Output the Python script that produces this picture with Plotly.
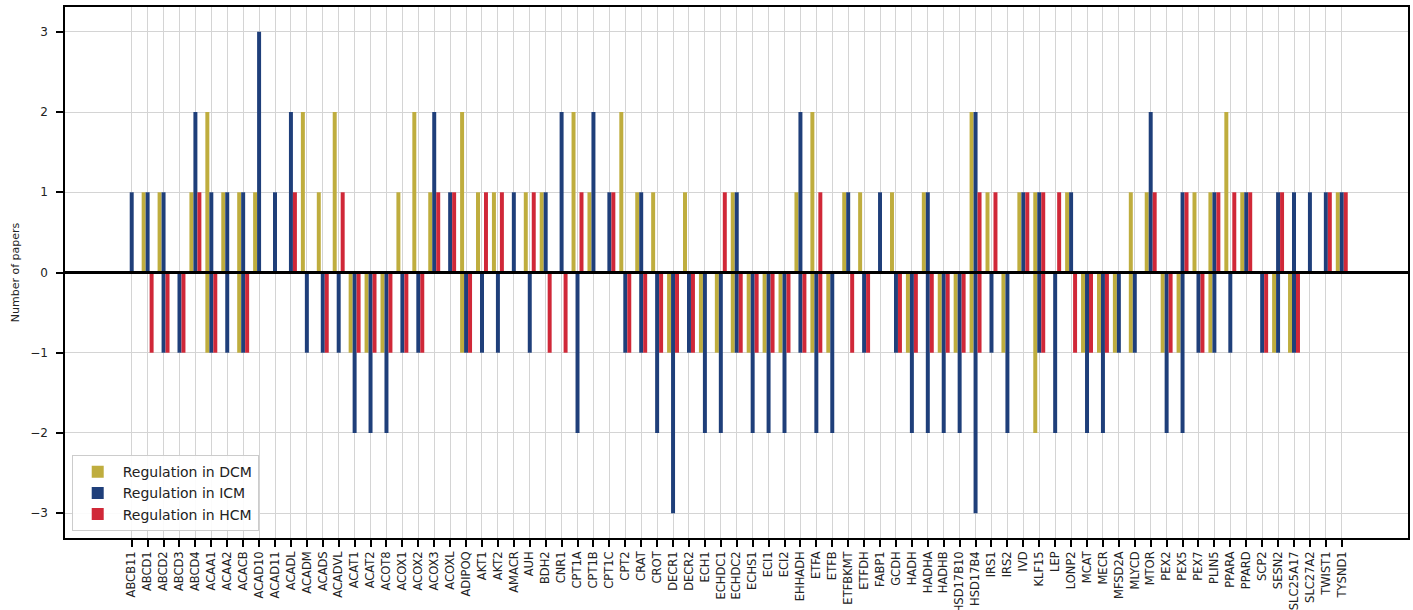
import plotly.graph_objects as go

genes = ["ABCB11", "ABCD1", "ABCD2", "ABCD3", "ABCD4", "ACAA1", "ACAA2", "ACACB", "ACAD10", "ACAD11",
         "ACADL", "ACADM", "ACADS", "ACADVL", "ACAT1", "ACAT2", "ACOT8", "ACOX1", "ACOX2", "ACOX3",
         "ACOXL", "ADIPOQ", "AKT1", "AKT2", "AMACR", "AUH", "BDH2", "CNR1", "CPT1A", "CPT1B",
         "CPT1C", "CPT2", "CRAT", "CROT", "DECR1", "DECR2", "ECH1", "ECHDC1", "ECHDC2", "ECHS1",
         "ECI1", "ECI2", "EHHADH", "ETFA", "ETFB", "ETFBKMT", "ETFDH", "FABP1", "GCDH", "HADH",
         "HADHA", "HADHB", "HSD17B10", "HSD17B4", "IRS1", "IRS2", "IVD", "KLF15", "LEP", "LONP2",
         "MCAT", "MECR", "MFSD2A", "MLYCD", "MTOR", "PEX2", "PEX5", "PEX7", "PLIN5", "PPARA",
         "PPARD", "SCP2", "SESN2", "SLC25A17", "SLC27A2", "TWIST1", "TYSND1"]

dcm_up = [0, 1, 1, 0, 1, 2, 1, 1, 1, 0,
          0, 2, 1, 2, 0, 0, 0, 1, 2, 1,
          0, 2, 1, 1, 0, 1, 1, 0, 2, 1,
          0, 2, 1, 1, 0, 1, 0, 0, 1, 0,
          0, 0, 1, 2, 0, 1, 1, 0, 1, 0,
          1, 0, 0, 2, 1, 0, 1, 1, 0, 1,
          0, 0, 0, 1, 1, 0, 0, 1, 1, 2,
          1, 0, 0, 0, 0, 0, 1]
dcm_down = [0, 0, 0, 0, 0, -1, 0, -1, 0, 0,
            0, 0, 0, 0, -1, -1, -1, 0, 0, 0,
            0, -1, 0, 0, 0, 0, 0, 0, 0, 0,
            0, 0, 0, 0, -1, 0, -1, -1, -1, -1,
            -1, -1, 0, -1, -1, 0, 0, 0, 0, -1,
            0, -1, -1, -1, 0, -1, 0, -2, 0, 0,
            -1, -1, -1, -1, 0, -1, -1, 0, -1, 0,
            0, 0, -1, -1, 0, 0, 0]
icm_up = [1, 1, 1, 0, 2, 1, 1, 1, 3, 1,
          2, 0, 0, 0, 0, 0, 0, 0, 0, 2,
          1, 0, 0, 0, 1, 0, 1, 2, 0, 2,
          1, 0, 1, 0, 0, 0, 0, 0, 1, 0,
          0, 0, 2, 0, 0, 1, 0, 1, 0, 0,
          1, 0, 0, 2, 0, 0, 1, 1, 0, 1,
          0, 0, 0, 0, 2, 0, 1, 0, 1, 0,
          1, 0, 1, 1, 1, 1, 1]
icm_down = [0, 0, -1, -1, 0, -1, -1, -1, 0, 0,
            0, -1, -1, -1, -2, -2, -2, -1, -1, 0,
            0, -1, -1, -1, 0, -1, 0, 0, -2, 0,
            0, -1, -1, -2, -3, -1, -2, -2, -1, -2,
            -2, -2, -1, -2, -2, 0, -1, 0, -1, -2,
            -2, -2, -2, -3, -1, -2, 0, -1, -2, 0,
            -2, -2, -1, -1, 0, -2, -2, -1, -1, -1,
            0, -1, -1, -1, 0, 0, 0]
hcm_up = [0, 0, 0, 0, 1, 0, 0, 0, 0, 0,
          1, 0, 0, 1, 0, 0, 0, 0, 0, 1,
          1, 0, 1, 1, 0, 1, 0, 0, 1, 0,
          1, 0, 0, 0, 0, 0, 0, 1, 0, 0,
          0, 0, 0, 1, 0, 0, 0, 0, 0, 0,
          0, 0, 0, 1, 1, 0, 1, 1, 1, 0,
          0, 0, 0, 0, 1, 0, 1, 0, 1, 1,
          1, 0, 1, 0, 0, 1, 1]
hcm_down = [0, -1, -1, -1, 0, -1, 0, -1, 0, 0,
            0, 0, -1, 0, -1, -1, -1, -1, -1, 0,
            0, -1, 0, 0, 0, 0, -1, -1, 0, 0,
            0, -1, -1, -1, -1, -1, 0, 0, -1, -1,
            -1, -1, -1, -1, 0, -1, -1, 0, -1, -1,
            -1, -1, -1, -1, 0, 0, 0, -1, 0, -1,
            -1, -1, 0, 0, 0, -1, 0, -1, 0, 0,
            0, -1, 0, -1, 0, 0, 0]

series = [
    ("Regulation in DCM", dcm_up, dcm_down, "#BFAD3E", -0.375),
    ("Regulation in ICM", icm_up, icm_down, "#1F3F7A", -0.125),
    ("Regulation in HCM", hcm_up, hcm_down, "#D02838", 0.125),
]


def nz(vals):
    return [v if v != 0 else None for v in vals]


fig = go.Figure()
for name, up, down, color, off in series:
    for vals, show in ((up, True), (down, False)):
        fig.add_trace(go.Bar(
            x=genes, y=nz(vals), name=name, legendgroup=name, showlegend=show,
            marker=dict(color=color, line=dict(width=0)),
            width=0.25, offset=off,
        ))

font = "DejaVu Sans, Arial, sans-serif"
fig.update_layout(
    template="none",
    width=1413, height=610,
    margin=dict(l=65, r=5, t=7, b=72),
    barmode="overlay",
    paper_bgcolor="white", plot_bgcolor="white",
    font=dict(family=font, size=11, color="#222"),
    showlegend=True,
    legend=dict(
        x=0.005, y=0.013, xanchor="left", yanchor="bottom",
        bgcolor="rgba(255,255,255,0.9)", bordercolor="#cccccc", borderwidth=1,
        font=dict(size=14, family=font, color="#222"),
        itemwidth=40, tracegroupgap=0,
    ),
    xaxis=dict(
        type="category",
        range=[-4.19, 80.16],
        tickmode="array", tickvals=genes, ticktext=genes,
        tickangle=-90,
        tickfont=dict(size=11.5, family=font, color="#222"),
        ticks="outside", ticklen=7, tickwidth=1.5, tickcolor="black",
        showgrid=True, gridcolor="#d4d4d4", gridwidth=1,
        showline=True, linecolor="black", linewidth=1.5, mirror=True,
        automargin=False, zeroline=False,
    ),
    yaxis=dict(
        range=[-3.31, 3.31],
        tickmode="array", tickvals=[-3, -2, -1, 0, 1, 2, 3],
        tickfont=dict(size=12, family=font, color="#222"),
        ticks="outside", ticklen=7, tickwidth=1.5, tickcolor="black",
        ticklabelstandoff=6,
        showgrid=True, gridcolor="#d4d4d4", gridwidth=1,
        showline=True, linecolor="black", linewidth=1.5, mirror=True,
        zeroline=False, automargin=False,
        title=dict(text="Number of papers", font=dict(size=11, family=font, color="#222"), standoff=8),
    ),
    shapes=[dict(type="line", xref="paper", x0=0, x1=1, yref="y", y0=0, y1=0,
                 line=dict(color="black", width=3), layer="above")],
)

fig.write_html("out.html", config={"displayModeBar": False},
               post_script="document.body.style.margin='0';")
